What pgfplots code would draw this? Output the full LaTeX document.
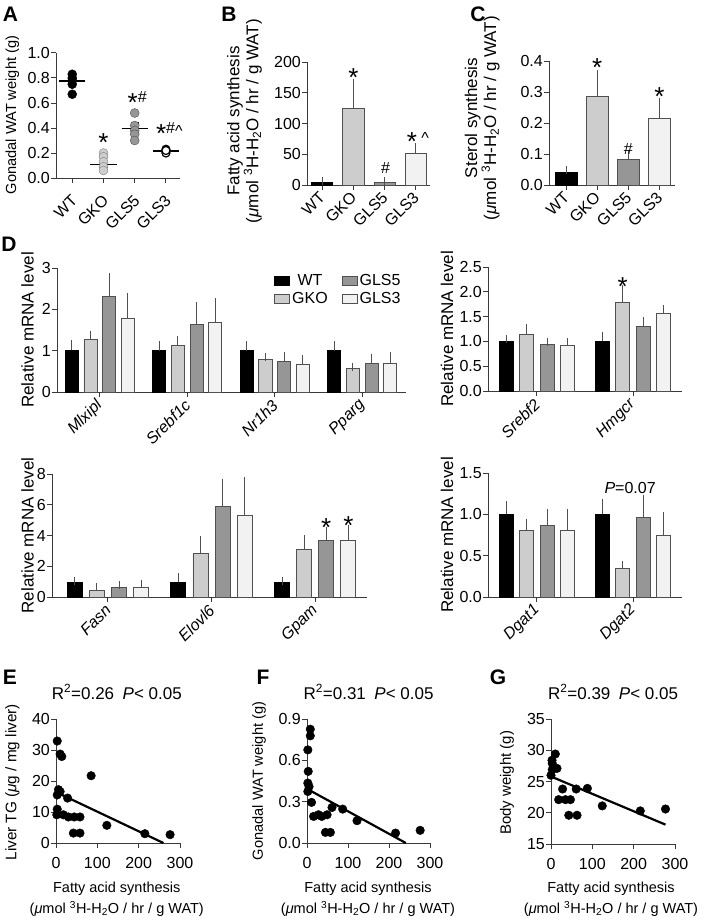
\documentclass[border=0pt]{standalone}
\usepackage{fontspec}
\setmainfont{Liberation Sans}
\usepackage{pgfplots}
\pgfplotsset{compat=1.18}
\definecolor{cgko}{HTML}{CDCDCD}
\definecolor{cgls5}{HTML}{969696}
\definecolor{cgls3}{HTML}{F2F2F2}
\definecolor{edge}{HTML}{505050}
\definecolor{axc}{HTML}{3A3A3A}
\newcommand{\fs}{\fontsize{16}{19}\selectfont}
\newcommand{\fl}{\fontsize{17}{19}\selectfont}
\newcommand{\fd}{\fontsize{17}{19}\selectfont}
\newcommand{\fsc}{\fontsize{15.3}{19}\selectfont}
\newcommand{\fgw}{\fontsize{14.6}{17}\selectfont}
\newcommand{\st}{\raisebox{-14.8pt}{\fontsize{26}{26}\selectfont *}}
\newcommand{\hs}{\raisebox{-5.6pt}{\#}}
\newcommand{\ct}{\raisebox{-8pt}{\textasciicircum}}
\newcommand{\unitl}{(\textit{μ}mol \textsuperscript{3}H-H\textsubscript{2}O / hr / g WAT)}
\tikzset{ann/.style={inner sep=0pt, anchor=base, font=\fs}}
\pgfplotsset{
 base/.style={scale only axis, anchor=south west, clip=false, enlargelimits=false,
   axis x line*=bottom, axis y line*=left,
   axis line style={-, draw=axc, line width=1pt},
   tick style={draw=axc, line width=1pt},
   tick align=outside, major tick length=5pt,
   /pgf/number format/assume math mode=true,
   tick label style={font=\fs, black, inner sep=1pt},
   label style={font=\fl, black, inner sep=0pt}},
 onedec/.style={yticklabel style={/pgf/number format/fixed, /pgf/number format/fixed zerofill, /pgf/number format/precision=1}},
 rotx/.style 2 args={xticklabel style={xshift=#1, yshift=#2, rotate=45, anchor=east}},
 dlab/.style={ylabel={Relative mRNA level}, ylabel style={font=\fd, at={(axis description cs:#1,0.5)}, anchor=center}},
 scx/.style={xticklabel style={yshift=-8pt},
   xlabel={Fatty acid synthesis\\\unitl},
   xlabel style={align=center, font=\fontsize{14.5}{21}\selectfont},
   ylabel style={font=\fsc},
   title style={font=\fl}},
 bars/.style={ybar, bar shift=0pt, draw=edge, line width=0.9pt,
   error bars/y dir=plus, error bars/y explicit,
   error bars/error bar style={line width=1pt, draw=edge},
   error bars/error mark options={line width=1pt, draw=edge, mark size=4pt}},
}
\begin{document}
\begin{tikzpicture}[font=\fs]
% ---------------- A
\begin{axis}[base, rotx={3pt}{-14pt}, onedec, at={(56pt,-178pt)}, width=124pt, height=125pt,
 xmin=-0.52, xmax=3.45, ymin=0, ymax=1,
 xtick={0,1,2,3}, xticklabels={WT,GKO,GLS5,GLS3},
 ytick={0,0.2,0.4,0.6,0.8,1.0},
 ylabel={Gonadal WAT weight (g)}, ylabel style={font=\fgw, at={(axis description cs:-0.351,0.504)}, anchor=center}]
\addplot[only marks, mark=*, mark size=4.5pt, mark options={fill=black, draw=black}] coordinates {(0,0.83)(0,0.80)(0,0.78)(0,0.75)(0,0.67)};
\addplot[only marks, mark=*, mark size=4.5pt, mark options={fill=cgko, draw=gray}] coordinates {(1,0.20)(1,0.17)(1,0.13)(1,0.09)(1,0.06)};
\addplot[only marks, mark=*, mark size=4.5pt, mark options={fill=cgls5, draw=edge}] coordinates {(2,0.52)(2,0.42)(2,0.38)(2,0.35)(2,0.30)};
\addplot[only marks, mark=*, mark size=4pt, mark options={fill=white, draw=black, line width=1.2pt}] coordinates {(3,0.23)(3,0.22)(3,0.21)(3,0.20)(3,0.22)};
% mean lines
\addplot[black, line width=1.3pt, unbounded coords=jump] coordinates {(-0.42,0.777)(0.42,0.777)(0.5,nan)(0.58,0.11)(1.42,0.11)(1.5,nan)(1.58,0.395)(2.42,0.395)(2.5,nan)(2.58,0.217)(3.42,0.217)};
% SEM bars with caps
\addplot[black, line width=1.2pt, unbounded coords=jump] coordinates {
(0,0.747)(0,0.807)(0.5,nan)(-0.13,0.747)(0.13,0.747)(0.5,nan)(-0.13,0.807)(0.13,0.807)(0.5,nan)
(1,0.085)(1,0.135)(1.5,nan)(0.87,0.085)(1.13,0.085)(1.5,nan)(0.87,0.135)(1.13,0.135)(1.5,nan)
(2,0.35)(2,0.44)(2.5,nan)(1.87,0.35)(2.13,0.35)(2.5,nan)(1.87,0.44)(2.13,0.44)(2.5,nan)
(3,0.209)(3,0.225)(3.5,nan)(2.87,0.209)(3.13,0.209)(3.5,nan)(2.87,0.225)(3.13,0.225)};
\node[ann] at (axis cs:1,0.328) {\st};
\node[ann] at (axis cs:2.08,0.65) {\st\hs};
\node[ann] at (axis cs:3.11,0.40) {\st\hs\ct};
\end{axis}
% ---------------- B
\begin{axis}[base, rotx={1pt}{-4pt}, at={(307pt,-185pt)}, width=123pt, height=123pt,
 xmin=-0.48, xmax=3.45, ymin=0, ymax=200,
 xtick={0,1,2,3}, xticklabels={WT,GKO,GLS5,GLS3},
 ytick={0,50,100,150,200},
 ylabel={Fatty acid synthesis\\\unitl}, ylabel style={align=center, font=\fontsize{17}{17}\selectfont, at={(axis description cs:-0.508,0.52)}, anchor=center}]
\addplot[bars, bar width=0.68, fill=black, draw=black] coordinates {(0,4.3)+-(0,2.2)};
\addplot[bars, bar width=0.68, fill=cgko] coordinates {(1,124)+-(0,42)};
\addplot[bars, bar width=0.68, fill=cgls5] coordinates {(2,4.9)+-(0,2.1)};
\addplot[bars, bar width=0.68, fill=cgls3] coordinates {(3,52)+-(0,10)};
\node[ann] at (axis cs:1,185) {\st};
\node[ann] at (axis cs:2.03,27.6) {\hs};
\node[ann] at (axis cs:3.06,80) {\st\ \ct};
\end{axis}
% ---------------- C
\begin{axis}[base, rotx={1pt}{-4pt}, onedec, at={(549pt,-185pt)}, width=126pt, height=124pt,
 xmin=-0.55, xmax=3.5, ymin=0, ymax=0.4,
 xtick={0,1,2,3}, xticklabels={WT,GKO,GLS5,GLS3},
 ytick={0,0.1,0.2,0.3,0.4},
 ylabel={Sterol synthesis\\\unitl}, ylabel style={align=center, font=\fontsize{17}{17}\selectfont, at={(axis description cs:-0.53,0.54)}, anchor=center}]
\addplot[bars, bar width=0.70, fill=black, draw=black] coordinates {(0,0.041)+-(0,0.007)};
\addplot[bars, bar width=0.70, fill=cgko] coordinates {(1,0.285)+-(0,0.072)};
\addplot[bars, bar width=0.70, fill=cgls5] coordinates {(2,0.081)+-(0,0.018)};
\addplot[bars, bar width=0.70, fill=cgls3] coordinates {(3,0.215)+-(0,0.054)};
\node[ann] at (axis cs:1,0.397) {\st};
\node[ann] at (axis cs:2,0.118) {\hs};
\node[ann] at (axis cs:3,0.303) {\st};
\end{axis}
% ---------------- D top-left
\begin{axis}[base, rotx={1pt}{-5pt}, dlab=-0.0845, at={(57pt,-392pt)}, width=349pt, height=124pt,
 xmin=-0.49, xmax=3.5, ymin=0, ymax=3,
 xtick={0,1,2,3}, xticklabels={\textit{Mlxipl},\textit{Srebf1c},\textit{Nr1h3},\textit{Pparg}},
 ytick={0,1,2,3},
 legend columns=2,
 legend image code/.code={\draw[#1, line width=0.9pt] (0pt,-4.5pt) rectangle (15pt,4.5pt);},
 legend style={draw=none, fill=none, at={(rel axis cs:0.622,0.965)}, anchor=north west, inner sep=0pt, row sep=1pt, font=\fs, /tikz/every even column/.append style={column sep=12pt}}]
\addplot[bars, bar width=0.149, fill=black, draw=black, forget plot] coordinates {(-0.32,1.01)+-(0,0.15)(0.68,1.0)+-(0,0.14)(1.68,1.0)+-(0,0.13)(2.68,1.0)+-(0,0.13)};
\addplot[bars, bar width=0.149, fill=cgko, forget plot] coordinates {(-0.107,1.26)+-(0,0.13)(0.893,1.13)+-(0,0.14)(1.893,0.79)+-(0,0.05)(2.893,0.56)+-(0,0.05)};
\addplot[bars, bar width=0.149, fill=cgls5, forget plot] coordinates {(0.107,2.31)+-(0,0.47)(1.107,1.64)+-(0,0.44)(2.107,0.75)+-(0,0.11)(3.107,0.70)+-(0,0.13)};
\addplot[bars, bar width=0.149, fill=cgls3, forget plot] coordinates {(0.32,1.78)+-(0,0.52)(1.32,1.69)+-(0,0.48)(2.32,0.67)+-(0,0.12)(3.32,0.70)+-(0,0.18)};
\addlegendimage{fill=black, draw=black}\addlegendentry{WT}
\addlegendimage{fill=cgls5, draw=edge}\addlegendentry{GLS5}
\addlegendimage{fill=cgko, draw=edge}\addlegendentry{GKO}
\addlegendimage{fill=cgls3, draw=edge}\addlegendentry{GLS3}
\end{axis}
% ---------------- D top-right
\begin{axis}[base, rotx={1pt}{-5pt}, onedec, dlab=-0.211, at={(488pt,-391pt)}, width=194pt, height=124pt,
 xmin=-0.51, xmax=1.51, ymin=0, ymax=2.5,
 xtick={0,1}, xticklabels={\textit{Srebf2},\textit{Hmgcr}},
 ytick={0,0.5,1.0,1.5,2.0,2.5}]
\addplot[bars, bar width=0.146, fill=black, draw=black] coordinates {(-0.32,1.0)+-(0,0.05)(0.68,1.0)+-(0,0.11)};
\addplot[bars, bar width=0.146, fill=cgko] coordinates {(-0.107,1.14)+-(0,0.13)(0.893,1.78)+-(0,0.28)};
\addplot[bars, bar width=0.146, fill=cgls5] coordinates {(0.107,0.93)+-(0,0.05)(1.107,1.30)+-(0,0.11)};
\addplot[bars, bar width=0.146, fill=cgls3] coordinates {(0.32,0.91)+-(0,0.07)(1.32,1.57)+-(0,0.08)};
\node[ann] at (axis cs:0.893,2.23) {\st};
\end{axis}
% ---------------- D bottom-left
\begin{axis}[base, rotx={1pt}{-5pt}, dlab=-0.078, at={(52pt,-597pt)}, width=315pt, height=123pt,
 xmin=-0.54, xmax=2.5, ymin=0, ymax=8,
 xtick={0,1,2}, xticklabels={\textit{Fasn},\textit{Elovl6},\textit{Gpam}},
 ytick={0,2,4,6,8}]
\addplot[bars, bar width=0.145, fill=black, draw=black] coordinates {(-0.32,0.97)+-(0,0.09)(0.68,0.97)+-(0,0.33)(1.68,0.97)+-(0,0.09)};
\addplot[bars, bar width=0.145, fill=cgko] coordinates {(-0.107,0.45)+-(0,0.18)(0.893,2.81)+-(0,0.87)(1.893,3.07)+-(0,0.69)};
\addplot[bars, bar width=0.145, fill=cgls5] coordinates {(0.107,0.61)+-(0,0.15)(1.107,5.9)+-(0,1.54)(2.107,3.70)+-(0,0.58)};
\addplot[bars, bar width=0.145, fill=cgls3] coordinates {(0.32,0.65)+-(0,0.19)(1.32,5.32)+-(0,2.25)(2.32,3.68)+-(0,0.75)};
\node[ann] at (axis cs:2.107,4.9) {\st};
\node[ann] at (axis cs:2.32,5.0) {\st};
\end{axis}
% ---------------- D bottom-right
\begin{axis}[base, rotx={1pt}{-5pt}, onedec, dlab=-0.211, at={(488pt,-597pt)}, width=194pt, height=124pt,
 xmin=-0.51, xmax=1.51, ymin=0, ymax=1.5,
 xtick={0,1}, xticklabels={\textit{Dgat1},\textit{Dgat2}},
 ytick={0,0.5,1.0,1.5}]
\addplot[bars, bar width=0.146, fill=black, draw=black] coordinates {(-0.32,1.0)+-(0,0.11)(0.68,1.0)+-(0,0.14)};
\addplot[bars, bar width=0.146, fill=cgko] coordinates {(-0.107,0.80)+-(0,0.095)(0.893,0.34)+-(0,0.05)};
\addplot[bars, bar width=0.146, fill=cgls5] coordinates {(0.107,0.86)+-(0,0.16)(1.107,0.96)+-(0,0.23)};
\addplot[bars, bar width=0.146, fill=cgls3] coordinates {(0.32,0.80)+-(0,0.22)(1.32,0.75)+-(0,0.23)};
\node[font=\fs] at (axis cs:0.97,1.32) {\textit{P}=0.07};
\end{axis}
% ---------------- E
\begin{axis}[base, scx, at={(56pt,-843pt)}, width=124pt, height=124pt,
 xmin=0, xmax=300, ymin=0, ymax=40,
 xtick={0,100,200,300}, ytick={0,10,20,30,40},
 ylabel={Liver TG (\textit{μ}g / mg liver)}, ylabel style={at={(axis description cs:-0.351,0.49)}, anchor=center},
 xlabel style={at={(axis description cs:0.49,-0.452)}, anchor=center},
 title={R\textsuperscript{2}=0.26\hspace{0.5em}\textit{P}< 0.05}, title style={at={(axis description cs:0.49,1.169)}, anchor=center}]
\addplot[only marks, mark=*, mark size=4.3pt, black] coordinates {(3,32.9)(10,28.7)(14,27.9)(6,17.2)(10,16.6)(3,15.5)(3,10.9)(2,9.1)(18,9.1)(28,14.5)(85,21.7)(30,8.4)(44,8.4)(58,8.4)(42,3.2)(58,3.2)(123,5.7)(215,3.0)(276,2.7)};
\addplot[black, line width=2.2pt] coordinates {(2,16.3)(260,0)};
\end{axis}
% ---------------- F
\begin{axis}[base, scx, onedec, at={(307pt,-843pt)}, width=123pt, height=124pt,
 xmin=0, xmax=300, ymin=0, ymax=0.9,
 xtick={0,100,200,300}, ytick={0,0.3,0.6,0.9},
 ylabel={Gonadal WAT weight (g)}, ylabel style={font=\fgw, at={(axis description cs:-0.39,0.5)}, anchor=center},
 xlabel style={at={(axis description cs:0.496,-0.452)}, anchor=center},
 title={R\textsuperscript{2}=0.31\hspace{0.5em}\textit{P}< 0.05}, title style={at={(axis description cs:0.5,1.169)}, anchor=center}]
\addplot[only marks, mark=*, mark size=4.3pt, black] coordinates {(8,0.826)(8,0.778)(2,0.676)(3,0.52)(2,0.435)(5,0.41)(2,0.374)(11,0.295)(16,0.193)(28,0.205)(36,0.193)(49,0.205)(45,0.077)(57,0.077)(61,0.258)(87,0.246)(122,0.162)(216,0.072)(276,0.092)};
\addplot[black, line width=2.2pt] coordinates {(2,0.39)(241,0)};
\end{axis}
% ---------------- G
\begin{axis}[base, scx, at={(551pt,-844pt)}, width=124pt, height=125pt,
 xmin=0, xmax=300, ymin=15, ymax=35,
 xtick={0,100,200,300}, ytick={15,20,25,30,35},
 ylabel={Body weight (g)}, ylabel style={font=\fontsize{15}{17}\selectfont, at={(axis description cs:-0.355,0.49)}, anchor=center},
 xlabel style={at={(axis description cs:0.484,-0.44)}, anchor=center},
 title={R\textsuperscript{2}=0.39\hspace{0.5em}\textit{P}< 0.05}, title style={at={(axis description cs:0.5,1.168)}, anchor=center}]
\addplot[only marks, mark=*, mark size=4.3pt, black] coordinates {(10.5,29.4)(2.4,28.4)(3,27.9)(3,26.9)(14.5,27.1)(0,26.0)(28,23.8)(18.5,22.1)(35,22.1)(47,22.1)(63,19.6)(43,19.6)(61,23.8)(88,23.9)(124,21.1)(216,20.3)(277,20.6)};
\addplot[black, line width=2.2pt] coordinates {(0,25.8)(277,18.1)};
\end{axis}
% ---------------- panel letters
\begin{scope}[every node/.style={font=\fontsize{21}{21}\selectfont\bfseries}]
\node at (10.5pt,-14.5pt) {A};
\node at (229pt,-14pt) {B};
\node at (478pt,-14pt) {C};
\node at (9pt,-244pt) {D};
\node at (10pt,-677pt) {E};
\node at (263pt,-677pt) {F};
\node at (498pt,-677pt) {G};
\end{scope}
\pgfresetboundingbox
\path[use as bounding box] (0,0) rectangle (711pt,-923pt);
\end{tikzpicture}
\end{document}
